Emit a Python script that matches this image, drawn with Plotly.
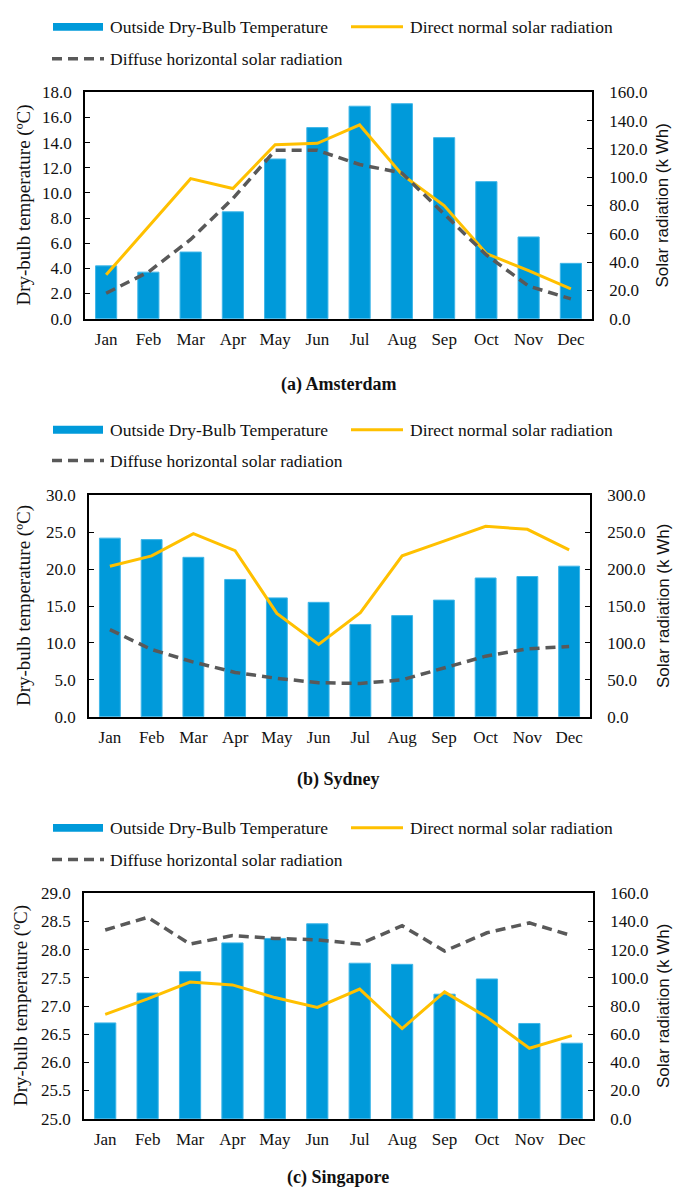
import plotly.graph_objects as go

months = ["Jan", "Feb", "Mar", "Apr", "May", "Jun", "Jul", "Aug", "Sep", "Oct", "Nov", "Dec"]

# (a) Amsterdam
ams_temp = [4.2, 3.7, 5.3, 8.5, 12.7, 15.2, 16.9, 17.1, 14.4, 10.9, 6.5, 4.4]
ams_direct = [31, 65, 99, 92, 123, 124, 137, 102, 80, 46, 34, 21]
ams_diffuse = [18, 33, 56, 85, 119, 119, 109, 103, 74, 45, 23, 14]

# (b) Sydney
syd_temp = [24.2, 24.0, 21.6, 18.6, 16.1, 15.5, 12.5, 13.7, 15.8, 18.8, 19.0, 20.4]
syd_direct = [204, 218, 248, 225, 140, 98, 141, 218, 238, 258, 254, 226]
syd_diffuse = [118, 91, 74, 60, 52, 46, 45, 50, 66, 82, 92, 95]

# (c) Singapore
sin_temp = [26.7, 27.23, 27.61, 28.12, 28.2, 28.46, 27.76, 27.74, 27.21, 27.48, 26.69, 26.34]
sin_direct = [74, 85, 97, 95, 86, 79, 92, 64, 90, 72, 50, 59]
sin_diffuse = [134, 143, 124, 130, 128, 127, 124, 137, 119, 132, 139, 130]

series_names = ["Outside Dry-Bulb Temperature", "Direct normal solar radiation",
                "Diffuse horizontal solar radiation"]
left_title = "Dry-bulb temperature (\u00baC)"
right_title = "Solar radiation (k Wh)"

W, H = 676, 1196
VSCALE = 0.9915  # page photographed slightly compressed vertically
BAR = "#009ADA"
YEL = "#FFC000"
GRY = "#595959"
TXT = "#111111"
SERIF = "Liberation Serif"
SANS = "Liberation Sans"


def fx(x):
    return x / W


def fy(y):
    return 1 - min(y / VSCALE, H - 9) / H


panels = [
    dict(temp=ams_temp, direct=ams_direct, diffuse=ams_diffuse, box=(85, 592, 84, 312),
         yl=(0, 18, 2), yr=(0, 160, 20), title="(a) Amsterdam", ty=378, leg=(18, 50), ltx=24),
    dict(temp=syd_temp, direct=syd_direct, diffuse=syd_diffuse, box=(89, 590, 490, 713),
         yl=(0, 30, 5), yr=(0, 300, 50), title="(b) Sydney", ty=776, leg=(424, 455), ltx=24),
    dict(temp=sin_temp, direct=sin_direct, diffuse=sin_diffuse, box=(84, 593, 891, 1118),
         yl=(25, 29, 0.5), yr=(0, 160, 20), title="(c) Singapore", ty=1186, leg=(825, 857), ltx=21),
]

fig = go.Figure()
layout = dict(
    width=W, height=H, margin=dict(l=0, r=0, t=0, b=0),
    paper_bgcolor="white", plot_bgcolor="white", showlegend=False,
    bargap=0.5, font=dict(family=SERIF, size=17, color=TXT),
)
shapes = []
annotations = []

for i, p in enumerate(panels):
    n = i + 1
    xa = "x" if n == 1 else f"x{n}"
    yl = "y" if n == 1 else f"y{2 * n - 1}"
    yr = f"y{2 * n}"
    xkey = "xaxis" if n == 1 else f"xaxis{n}"
    ylkey = "yaxis" if n == 1 else f"yaxis{2 * n - 1}"
    yrkey = f"yaxis{2 * n}"
    x0, x1, y0, y1 = p["box"]

    fig.add_trace(go.Bar(x=months, y=p["temp"], xaxis=xa, yaxis=yl, name=series_names[0],
                         marker=dict(color=BAR, line=dict(color="#3FB6E8", width=1))))
    fig.add_trace(go.Scatter(x=months, y=p["direct"], xaxis=xa, yaxis=yr, mode="lines",
                             name=series_names[1], line=dict(color=YEL, width=3)))
    fig.add_trace(go.Scatter(x=months, y=p["diffuse"], xaxis=xa, yaxis=yr, mode="lines",
                             name=series_names[2], line=dict(color=GRY, width=3.5, dash="10px,6px")))

    layout[xkey] = dict(domain=[fx(x0), fx(x1)], anchor=yl, type="category", range=[-0.5, 11.5],
                        showline=True, linecolor="black", linewidth=1.5, mirror=True,
                        ticks="", showgrid=False, ticklabelstandoff=4,
                        tickfont=dict(family=SERIF, size=17, color=TXT))
    lo, hi, dt = p["yl"]
    layout[ylkey] = dict(domain=[fy(y1), fy(y0)], anchor=xa, range=[lo, hi], dtick=dt, tick0=lo,
                         tickformat=".1f", showline=True, linecolor="black", linewidth=1.5,
                         ticks="inside", ticklen=5, tickcolor="black", showgrid=False,
                         zeroline=False, ticklabelstandoff=8,
                         tickfont=dict(family=SERIF, size=17, color=TXT))
    lo, hi, dt = p["yr"]
    layout[yrkey] = dict(overlaying=yl, side="right", anchor=xa, range=[lo, hi], dtick=dt, tick0=lo,
                         tickformat=".1f", showline=True, linecolor="black", linewidth=1.5,
                         ticks="inside", ticklen=5, tickcolor="black", showgrid=False,
                         zeroline=False, ticklabelstandoff=12,
                         tickfont=dict(family=SERIF, size=17, color=TXT))

    cy = (y0 + y1) / 2
    annotations.append(dict(text=left_title, x=fx(p["ltx"]), y=fy(cy), xref="paper", yref="paper",
                            textangle=-90, showarrow=False, xanchor="center", yanchor="middle",
                            font=dict(family=SERIF, size=19, color=TXT)))
    annotations.append(dict(text=right_title, x=fx(663), y=fy(cy), xref="paper", yref="paper",
                            textangle=-90, showarrow=False, xanchor="center", yanchor="middle",
                            font=dict(family=SANS, size=17, color=TXT)))
    annotations.append(dict(text="<b>" + p["title"] + "</b>", x=fx(338), y=fy(p["ty"]),
                            xref="paper", yref="paper", showarrow=False, xanchor="center",
                            yanchor="middle", font=dict(family=SERIF, size=18, color=TXT)))

    # legend (drawn manually)
    r1, r2 = p["leg"]
    shapes.append(dict(type="rect", xref="paper", yref="paper", x0=fx(53), x1=fx(103),
                       y0=fy(r1 + 4), y1=fy(r1 - 4), fillcolor=BAR, line=dict(width=0)))
    shapes.append(dict(type="line", xref="paper", yref="paper", x0=fx(351), x1=fx(403),
                       y0=fy(r1), y1=fy(r1), line=dict(color=YEL, width=3)))
    shapes.append(dict(type="line", xref="paper", yref="paper", x0=fx(52), x1=fx(104),
                       y0=fy(r2), y1=fy(r2), line=dict(color=GRY, width=3.5, dash="10px,6px")))
    for txt, lx, ly in [(series_names[0], 108, r1), (series_names[1], 408, r1), (series_names[2], 108, r2)]:
        annotations.append(dict(text=txt, x=fx(lx), y=fy(ly), xref="paper", yref="paper",
                                showarrow=False, xanchor="left", yanchor="middle",
                                font=dict(family=SERIF, size=17.5, color=TXT)))

layout["shapes"] = shapes
layout["annotations"] = annotations
fig.update_layout(**layout)
post = ("document.documentElement.style.margin='0';document.body.style.margin='0';"
        "document.body.style.overflow='hidden';"
        "var d=document.getElementById('{plot_id}');d.style.position='fixed';"
        "d.style.left='0px';d.style.top='0px';")
fig.write_html("out.html", config={"displayModeBar": False}, post_script=post)
